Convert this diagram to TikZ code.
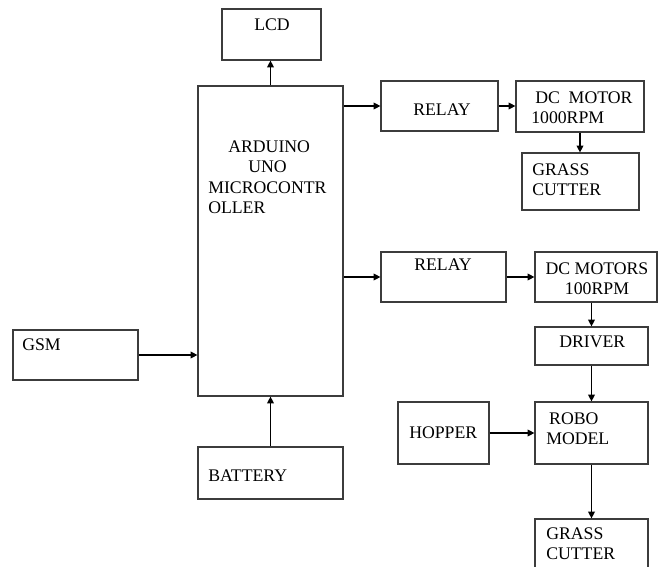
\documentclass[tikz,border=0pt]{standalone}
\usepackage{fontspec}
\setmainfont{Liberation Serif}
\usepackage{tikz}
\usetikzlibrary{fit,arrows.meta}

\begin{document}
\begin{tikzpicture}[x=0.75pt,y=0.75pt,yscale=-1,xscale=1,
  blk/.style={draw={rgb, 255:red, 60; green, 60; blue, 60}, line width=0.9pt, rectangle, inner sep=0pt},
  arr/.style={line width=0.9pt, -{Triangle[length=5pt,width=5pt]}},
  txt/.style={anchor=north west, inner sep=0pt, font=\fontsize{13.3}{15.4}\selectfont, align=left}]
\useasboundingbox (0,0) rectangle (658,567);

%Shape: Rectangle [lcd]
\node [blk, fit={(222,9) (321,60)}] (lcd) {};
%Shape: Rectangle [arduino]
\node [blk, fit={(198,86) (343,396)}] (arduino) {};
%Shape: Rectangle [relay1]
\node [blk, fit={(381,81) (498,131)}] (relayA) {};
%Shape: Rectangle [motor1]
\node [blk, fit={(516,81) (644,132)}] (motorA) {};
%Shape: Rectangle [grass1]
\node [blk, fit={(522,153) (639,210)}] (grassA) {};
%Shape: Rectangle [relay2]
\node [blk, fit={(381,252) (506,302)}] (relayB) {};
%Shape: Rectangle [motor2]
\node [blk, fit={(535,252) (657,302)}] (motorB) {};
%Shape: Rectangle [driver]
\node [blk, fit={(535,327) (648,365)}] (driver) {};
%Shape: Rectangle [robo]
\node [blk, fit={(535,402) (648,464)}] (robo) {};
%Shape: Rectangle [hopper]
\node [blk, fit={(398,402) (489,464)}] (hopper) {};
%Shape: Rectangle [grass2]
\node [blk, fit={(535,519) (648,585)}] (grassB) {};
%Shape: Rectangle [gsm]
\node [blk, fit={(13,330) (138,380)}] (gsm) {};
%Shape: Rectangle [battery]
\node [blk, fit={(198,447) (343,499)}] (battery) {};

%Straight Lines
\draw [arr] (arduino.north) -- (arduino.north |- lcd.south);
\draw [arr] (arduino.east |- relayA.west) -- (relayA.west);
\draw [arr] (relayA.east) -- (motorA.west |- relayA.east);
\draw [arr] (motorA.south) -- (motorA.south |- grassA.north);
\draw [arr] (arduino.east |- relayB.west) -- (relayB.west);
\draw [arr] (relayB.east) -- (motorB.west |- relayB.east);
\draw [arr] (driver.north |- motorB.south) -- (driver.north);
\draw [arr] (driver.south) -- (robo.north);
\draw [arr] (hopper.east) -- (robo.west |- hopper.east);
\draw [arr] (robo.south) -- (robo.south |- grassB.north);
\draw [arr] (gsm.east) -- (arduino.west |- gsm.east);
\draw [arr] (battery.north) -- (battery.north |- arduino.south);

% Text Node
\draw (254,18) node [txt] (lcdtxt) {LCD};
% Text Node
\draw (208,140) node [txt] (arduinotxt) {\hspace*{15pt}ARDUINO\\\hspace*{30pt}UNO\\MICROCONTR\\OLLER};
% Text Node
\draw (413,104) node [txt] (relayAtxt) {RELAY};
% Text Node
\draw (531,91) node [txt] (motorAtxt) {\hspace*{3pt}DC\ \ MOTOR\\1000RPM};
% Text Node
\draw (532,163) node [txt] (grassAtxt) {GRASS\\CUTTER};
% Text Node
\draw (414,259) node [txt] (relayBtxt) {RELAY};
% Text Node
\draw (597,262) node [txt, anchor=north, align=center] (motorBtxt) {DC MOTORS\\100RPM};
% Text Node
\draw (559,336) node [txt] (drivertxt) {DRIVER};
% Text Node
\draw (546,412) node [txt] (robotxt) {\hspace*{2.2pt}ROBO\\MODEL};
% Text Node
\draw (409,426) node [txt] (hoppertxt) {HOPPER};
% Text Node
\draw (546,527) node [txt] (grassBtxt) {GRASS\\CUTTER};
% Text Node
\draw (22,338) node [txt] (gsmtxt) {GSM};
% Text Node
\draw (208,470) node [txt] (batterytxt) {BATTERY};

\end{tikzpicture}
\end{document}
